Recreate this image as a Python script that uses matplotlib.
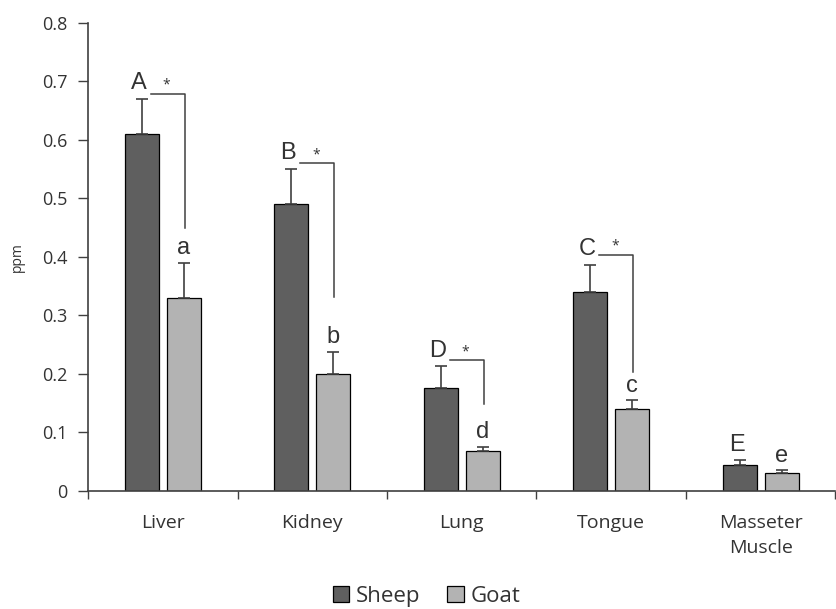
import numpy as np
import matplotlib
matplotlib.use("Agg")
import matplotlib.pyplot as plt

tissues = ["Liver", "Kidney", "Lung", "Tongue", "Masseter\nMuscle"]
sheep = [0.61, 0.49, 0.175, 0.34, 0.045]
sheep_err = [0.06, 0.06, 0.038, 0.046, 0.007]
goat = [0.33, 0.20, 0.068, 0.14, 0.03]
goat_err = [0.06, 0.038, 0.007, 0.015, 0.005]
sheep_letters = ["A", "B", "D", "C", "E"]
goat_letters = ["a", "b", "d", "c", "e"]
# significance brackets: (category, bar height, lower end)
brackets = [(0, 0.679, 0.449), (1, 0.56, 0.331), (2, 0.223, 0.148), (3, 0.403, 0.203)]

plt.rcParams['font.family'] = ['Open Sans', 'DejaVu Sans']
dark = "#404040"
txt = "#333333"

fig = plt.figure(figsize=(8.36, 6.09), dpi=100)
ax = fig.add_axes([0.1053, 0.194, 0.894, 0.7687])

x = np.arange(len(tissues))
w = 0.227
off = 0.14
ax.bar(x - off, sheep, w, color="#5f5f5f", edgecolor="black", linewidth=0.9, label="Sheep", zorder=2)
ax.bar(x + off, goat, w, color="#b3b3b3", edgecolor="black", linewidth=0.9, label="Goat", zorder=2)
ax.errorbar(x - off, sheep, yerr=[np.zeros(5), sheep_err], fmt="none", ecolor=dark,
            elinewidth=1.2, capsize=4.5, capthick=1.2, zorder=3)
ax.errorbar(x + off, goat, yerr=[np.zeros(5), goat_err], fmt="none", ecolor=dark,
            elinewidth=1.2, capsize=4.5, capthick=1.2, zorder=3)

for i in range(len(tissues)):
    ax.text(x[i] - off - 0.02, sheep[i] + sheep_err[i] + 0.008, sheep_letters[i], ha="center",
            va="bottom", fontsize=17, color=txt, family="Liberation Sans")
    ax.text(x[i] + off, goat[i] + goat_err[i] + 0.006, goat_letters[i], ha="center",
            va="bottom", fontsize=17, color=txt, family="Liberation Sans")

for i, top, low in brackets:
    x0 = x[i] - off + 0.06
    x1 = x[i] + off + 0.007
    ax.plot([x0, x1, x1], [top, top, low], color=dark, linewidth=1.1, zorder=3)
    ax.text((x0 + x1) / 2 - 0.01, top + 0.002, "*", ha="center", va="bottom",
            fontsize=10, color=txt)

ax.set_xlim(-0.5, 4.5)
ax.set_ylim(0, 0.8)
ax.set_yticks(np.arange(0, 0.81, 0.1))
ax.set_yticklabels(["0"] + ["%.1f" % v for v in np.arange(0.1, 0.81, 0.1)])
ax.set_xticks(x)
ax.set_xticklabels(tissues, linespacing=1.5)
ax.set_xticks(np.arange(-0.5, 4.6, 1), minor=True)
ax.tick_params(axis="x", which="major", length=0, pad=17, labelsize=14, labelcolor=txt)
ax.tick_params(axis="x", which="minor", length=6, width=1, color=dark)
ax.tick_params(axis="y", length=7, width=1, color=dark, labelsize=13, labelcolor=txt, pad=8)
for s in ["top", "right"]:
    ax.spines[s].set_visible(False)
for s in ["left", "bottom"]:
    ax.spines[s].set_color(dark)
    ax.spines[s].set_linewidth(1.2)

ax.set_ylabel("ppm", fontsize=10, color=txt, labelpad=12)

fig.legend(loc="lower center", bbox_to_anchor=(0.51, 0.0), ncol=2, frameon=False,
           borderaxespad=0.0, borderpad=0.1,
           fontsize=16, handlelength=0.75, handleheight=0.75, handletextpad=0.3,
           columnspacing=1.2, labelcolor=txt)

fig.savefig("out.png", dpi=100)
